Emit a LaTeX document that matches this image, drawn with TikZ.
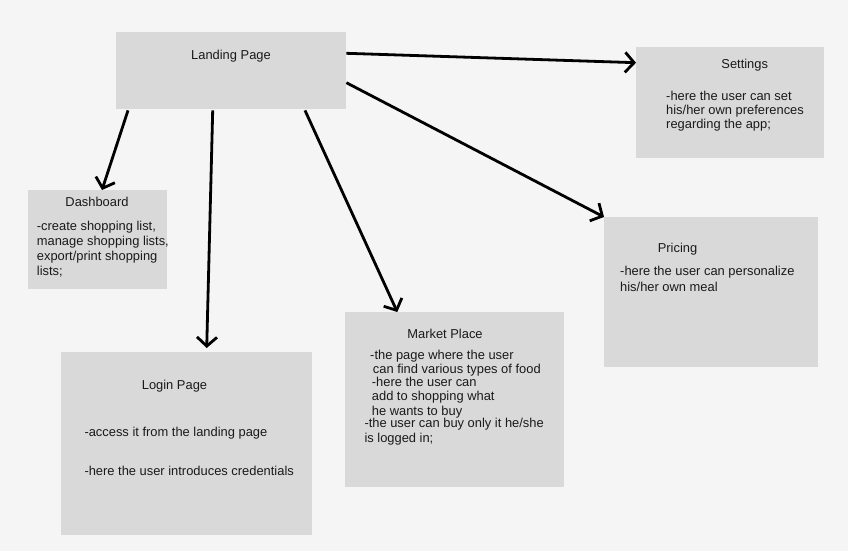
\documentclass[tikz,border=0pt]{standalone}
\usepackage{fontspec}
\setmainfont{Liberation Sans}
\usetikzlibrary{arrows.meta}
\definecolor{bg}{HTML}{F5F5F5}
\definecolor{boxgray}{HTML}{D9D9D9}
\definecolor{ink}{HTML}{1A1A1A}
\begin{document}
\begin{tikzpicture}[x=1pt,y=-1pt,
  box/.style={fill=boxgray, draw=none, inner sep=0pt, anchor=north west},
  txt/.style={inner sep=0pt, anchor=base west, text=ink, font=\fontsize{12.9}{14}\selectfont},
  ttl/.style={inner sep=0pt, anchor=base, text=ink, font=\fontsize{12.9}{14}\selectfont},
  arr/.style={line width=2.8pt, draw=black, -{Straight Barb[length=9pt,width=20pt]}}]
\fill[bg] (0,0) rectangle (848,551);
\useasboundingbox (0,0) rectangle (848,551);

% boxes
\node[box, minimum width=230pt, minimum height=77pt] (land) at (116,32) {};
\node[box, minimum width=188pt, minimum height=111pt] (sett) at (636,47) {};
\node[box, minimum width=139pt, minimum height=99pt] (dash) at (28,190) {};
\node[box, minimum width=214pt, minimum height=150pt] (pric) at (604,217) {};
\node[box, minimum width=219pt, minimum height=175pt] (mark) at (345,312) {};
\node[box, minimum width=251pt, minimum height=183pt] (login) at (61,352) {};

% texts
\node[ttl] (t-land) at (231,59.3) {Landing Page};

\node[ttl] (t-sett) at (744.7,68.3) {Settings};
\node[txt] (s1) at (666,100.5) {-here the user can set};
\node[txt] (s2) at (666,114.5) {his/her own preferences};
\node[txt] (s3) at (666,128.5) {regarding the app;};

\node[ttl] (t-dash) at (97,206.7) {Dashboard};
\node[txt] (d1) at (36.7,230.7) {-create shopping list,};
\node[txt] (d2) at (36.7,245.3) {manage shopping lists,};
\node[txt] (d3) at (36.7,260) {export/print shopping};
\node[txt] (d4) at (36.7,275) {lists;};

\node[ttl] (t-pric) at (677.5,252.3) {Pricing};
\node[txt] (p1) at (620,275.7) {-here the user can personalize};
\node[txt] (p2) at (620,291) {his/her own meal};

\node[ttl] (t-mark) at (445,338.3) {Market Place};
\node[txt] (m1) at (370,359) {-the page where the user};
\node[txt] (m2) at (372.7,373.3) {can find various types of food};
\node[txt] (m3) at (371.7,386) {-here the user can};
\node[txt] (m4) at (371.7,400.7) {add to shopping what};
\node[txt] (m5) at (371.7,415) {he wants to buy};
\node[txt] (m6) at (364.3,427.7) {-the user can buy only it he/she};
\node[txt] (m7) at (364.3,442.3) {is logged in;};

\node[ttl] (t-login) at (174.5,389) {Login Page};
\node[txt] (l1) at (84.3,436) {-access it from the landing page};
\node[txt] (l2) at (84.3,475.7) {-here the user introduces credentials};

% arrows
\draw[arr] ([yshift=-21.3pt]land.north east) -- ([yshift=-15.7pt]sett.north west);
\draw[arr] ([yshift=-50.7pt]land.north east) -- (pric.north west);
\draw[arr] ([xshift=12pt,yshift=-1pt]land.south west) -- ([xshift=74pt]dash.north west);
\draw[arr] ([xshift=96.7pt,yshift=-1pt]land.south west) -- ([xshift=145.7pt,yshift=4pt]login.north west);
\draw[arr] ([xshift=189pt,yshift=-1pt]land.south west) -- ([xshift=52.3pt]mark.north west);
\end{tikzpicture}
\end{document}
